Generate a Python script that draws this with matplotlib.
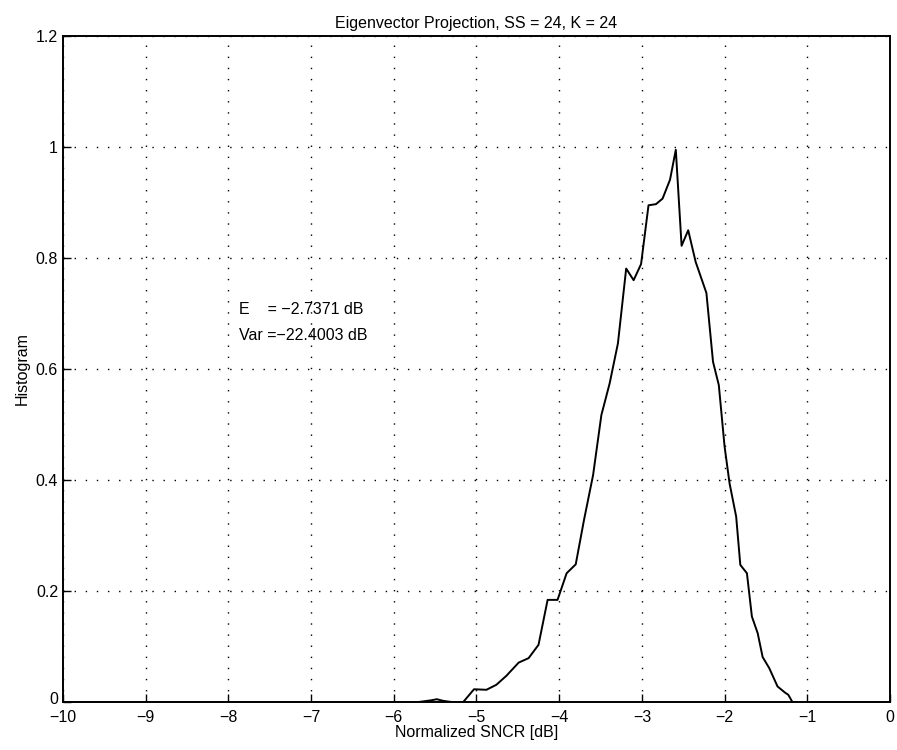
import matplotlib
matplotlib.use("Agg")
import matplotlib.pyplot as plt
from matplotlib.transforms import ScaledTranslation

plt.rcParams['font.family'] = ['Liberation Sans', 'DejaVu Sans']

# Histogram curve (Normalized SNCR [dB] vs. normalized histogram)
sncr = [-10.0, -5.70, -5.55, -5.48, -5.40, -5.30, -5.16, -5.03, -4.88, -4.76, -4.64,
        -4.49, -4.37, -4.25, -4.14, -4.02, -3.91, -3.80, -3.70, -3.59, -3.49,
        -3.39, -3.29, -3.19, -3.10, -3.01, -2.92, -2.83, -2.75, -2.66, -2.59,
        -2.52, -2.44, -2.35, -2.22, -2.14, -2.07, -2.00, -1.94, -1.86, -1.81,
        -1.73, -1.67, -1.60, -1.54, -1.46, -1.36, -1.27, -1.23, -1.18, 0.0]
hist = [0.0, 0.0, 0.003, 0.005, 0.002, 0.0, 0.0, 0.023, 0.022, 0.031, 0.047,
        0.071, 0.079, 0.103, 0.184, 0.184, 0.232, 0.248, 0.328, 0.409, 0.517,
        0.574, 0.646, 0.781, 0.760, 0.789, 0.895, 0.897, 0.907, 0.941, 0.995,
        0.822, 0.850, 0.793, 0.737, 0.613, 0.571, 0.460, 0.394, 0.334, 0.247,
        0.232, 0.154, 0.124, 0.081, 0.061, 0.028, 0.017, 0.013, 0.0, 0.0]

xticks = list(range(-10, 1))
yticks = [0, 0.2, 0.4, 0.6, 0.8, 1.0, 1.2]
ytick_labels = ['0', '0.2', '0.4', '0.6', '0.8', '1', '1.2']

title = 'Eigenvector Projection, SS = 24, K = 24'
annot = 'E    = \u22122.7371 dB\nVar =\u221222.4003 dB'

fig = plt.figure(figsize=(8.97, 7.5), dpi=100)
ax = fig.add_axes([0.0702, 0.064, 0.922, 0.888])

ax.plot(sncr, hist, color='black', linewidth=1.4)

ax.set_xlim(-10, 0)
ax.set_ylim(0, 1.2)
ax.set_xticks(xticks)
ax.set_xticklabels([str(t).replace('-', '\u2212') for t in xticks])
ax.set_yticks(yticks)
ax.set_yticklabels(ytick_labels)
ax.tick_params(direction='in', length=6, width=1, labelsize=11.5, colors='black')
ax.tick_params(axis='x', pad=6)
ax.grid(True, color='black', linestyle=(0, (1, 7)), linewidth=1.0)
for s in ax.spines.values():
    s.set_linewidth(1.4)
    s.set_color('black')

# lift the y "0" label slightly so it does not collide with the "-10" x label
zero_lbl = ax.get_yticklabels()[0]
zero_lbl.set_transform(zero_lbl.get_transform() + ScaledTranslation(0, 3 / 72, fig.dpi_scale_trans))

ax.set_xlabel('Normalized SNCR [dB]', fontsize=11.5, labelpad=0)
ax.set_ylabel('Histogram', fontsize=11.5, labelpad=4)
ax.set_title(title, fontsize=11.5, pad=6)

ax.text(-7.87, 0.72, annot, fontsize=11.5, ha='left', va='top', linespacing=1.85)

fig.savefig('out.png', dpi=100, facecolor='white')
